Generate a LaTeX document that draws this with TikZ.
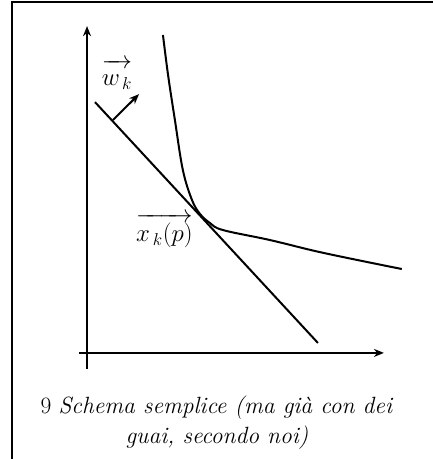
\documentclass[tikz,border=0pt]{standalone}
\usepackage{amsmath}
\usetikzlibrary{arrows.meta}
\tikzset{
	asse/.style = {line width=2pt, -{Stealth[length=10pt,width=8pt]}},
	linea/.style = {line width=2pt},
	etichetta/.style = {font=\fontsize{26}{30}\selectfont, inner sep=0pt}
}
\begin{document}
\begin{tikzpicture}
		\useasboundingbox (-3.06,-3.73) rectangle (12.16,12.41);
		\draw[line width=2.4pt] (12.2,12.34) -- (-2.64,12.34) -- (-2.64,-3.8);
		
		\draw[asse] (0,-0.56) -- (0,11.49);
		\draw[asse] (-0.28,0) -- (10.44,0);
		
		\coordinate (t1) at (0.28,8.82);
		\coordinate (t2) at (8.12,0.35);
		\draw[linea] (t1) -- (t2);
		
		\coordinate (n0) at (0.91,8.19);
		\coordinate (n1) at (1.83,9.10);
		\draw[asse] (n0) -- (n1);
		
		\draw[linea] plot[smooth, tension=.6] coordinates {(2.67,11.18) (2.85,9.77) (3.09,8.19) (3.37,6.43) (3.69,5.38) (3.97,4.89) (4.32,4.57) (4.78,4.32) (6.43,3.97) (8.30,3.52) (11.07,2.95)};
		
		\node[etichetta] (wk) at (1.05,9.8) {$\overrightarrow{\vphantom{A}w_{\,k}}$};
		\node[etichetta] (xkp) at (2.72,4.3) {$\overrightarrow{x_{\,k}(p)}$};
		
		\node[font=\fontsize{23.5}{30}\selectfont, align=center] (didascalia) at (4.57,-2.45) {9 \textit{Schema semplice (ma già con dei}\\\textit{guai, secondo noi)}};
\end{tikzpicture}
\end{document}
